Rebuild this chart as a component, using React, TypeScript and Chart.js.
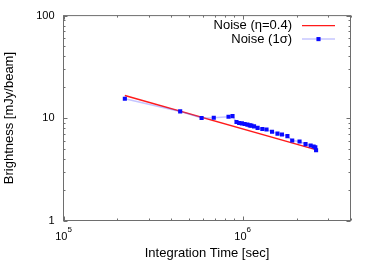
import React, { useEffect, useRef } from 'react';
import { Chart, registerables } from 'chart.js';

Chart.register(...registerables);

// ---- data ----
const seriesLabels = ['Noise (η=0.4)', 'Noise (1σ)'];

const fitTimes = [2.2e5, 2.53e6];
const fitNoise = [16.6, 4.95];

const sigmaTimes = [
  2.2e5, 4.48e5, 5.9e5, 6.9e5, 8.34e5, 8.78e5, 9.24e5, 9.56e5, 9.9e5, 1.026e6,
  1.063e6, 1.096e6, 1.119e6, 1.158e6, 1.212e6, 1.288e6, 1.359e6, 1.459e6, 1.565e6,
  1.657e6, 1.778e6, 1.891e6, 2.078e6, 2.244e6, 2.396e6, 2.49e6, 2.545e6, 2.57e6,
];
const sigmaNoise = [
  15.43, 11.61, 10.0, 10.08, 10.31, 10.45, 9.14, 8.94, 8.87, 8.74,
  8.62, 8.48, 8.43, 8.3, 8.02, 7.81, 7.73, 7.34, 7.05,
  6.91, 6.66, 6.03, 5.9, 5.57, 5.4, 5.27, 5.19, 4.85,
];

const xRange = [1e5, 4e6];
const yRange = [1, 100];
const xMajorTicks = [1e5, 1e6];
const yMajorTicks = [1, 10, 100];
const yTickLabels = ['1', '10', '100'];
const minorMultipliers = [2, 3, 4, 5, 6, 7, 8, 9];

const xTitle = 'Integration Time [sec]';
const yTitle = 'Brightness [mJy/beam]';

const FONT = '"Liberation Sans", Arial, Helvetica, sans-serif';

const gnuplotPlugin = {
  id: 'gnuplotFrame',
  afterDatasetsDraw(chart: any) {
    const { ctx, chartArea } = chart;
    const { left, right, top, bottom } = chartArea;
    const xs = chart.scales.x;
    const ys = chart.scales.y;
    ctx.save();

    // frame
    ctx.strokeStyle = '#6e6e6e';
    ctx.lineWidth = 1;
    ctx.strokeRect(left, top, right - left, bottom - top);

    // ticks (inward, mirrored)
    const majLen = 4;
    const minLen = 2;
    ctx.beginPath();
    const xDecades = [];
    for (let e = Math.floor(Math.log10(xRange[0])); e <= Math.ceil(Math.log10(xRange[1])); e++) xDecades.push(Math.pow(10, e));
    xDecades.forEach((d) => {
      [1, ...minorMultipliers].forEach((m) => {
        const v = d * m;
        if (v < xRange[0] || v > xRange[1]) return;
        const px = Math.round(xs.getPixelForValue(v)) + 0.5;
        const len = m === 1 ? majLen : minLen;
        ctx.moveTo(px, bottom);
        ctx.lineTo(px, bottom - len);
        ctx.moveTo(px, top);
        ctx.lineTo(px, top + len);
      });
    });
    const yDecades = [];
    for (let e = Math.floor(Math.log10(yRange[0])); e <= Math.ceil(Math.log10(yRange[1])); e++) yDecades.push(Math.pow(10, e));
    yDecades.forEach((d) => {
      [1, ...minorMultipliers].forEach((m) => {
        const v = d * m;
        if (v < yRange[0] || v > yRange[1]) return;
        const py = Math.round(ys.getPixelForValue(v)) + 0.5;
        const len = m === 1 ? majLen : minLen;
        ctx.moveTo(left, py);
        ctx.lineTo(left + len, py);
        ctx.moveTo(right, py);
        ctx.lineTo(right - len, py);
      });
    });
    ctx.stroke();

    // x tick labels: 10^n
    ctx.fillStyle = '#000';
    ctx.textBaseline = 'alphabetic';
    ctx.textAlign = 'left';
    xMajorTicks.forEach((v) => {
      const px = xs.getPixelForValue(v);
      const exp = String(Math.round(Math.log10(v)));
      ctx.font = `11px ${FONT}`;
      const wb = ctx.measureText('10').width;
      ctx.font = `8px ${FONT}`;
      const we = ctx.measureText(exp).width;
      const start = px - (wb + we) / 2;
      ctx.font = `11px ${FONT}`;
      ctx.fillText('10', start, bottom + 19);
      ctx.font = `8px ${FONT}`;
      ctx.fillText(exp, start + wb, bottom + 11);
    });

    // legend (gnuplot style: text then sample)
    const rows = [top + 10, top + 23.5];
    const textRight = right - 58.5;
    const sampleL = right - 48.5;
    const sampleR = right - 15.5;
    chart.data.datasets.forEach((ds: any, i: number) => {
      const y = rows[i];
      ctx.font = `13px ${FONT}`;
      ctx.textAlign = 'right';
      ctx.textBaseline = 'middle';
      ctx.fillStyle = '#000';
      ctx.fillText(ds.label, textRight, y);
      ctx.beginPath();
      ctx.strokeStyle = ds.borderColor;
      ctx.lineWidth = ds.borderWidth;
      ctx.moveTo(sampleL, y);
      ctx.lineTo(sampleR, y);
      ctx.stroke();
      if (ds.pointRadius > 0) {
        const s = ds.pointRadius * Math.SQRT2;
        ctx.fillStyle = ds.pointBackgroundColor;
        ctx.fillRect((sampleL + sampleR) / 2 - s / 2, y - s / 2, s, s);
      }
    });

    ctx.restore();
  },
};

export default function App() {
  const canvasRef = useRef<HTMLCanvasElement | null>(null);

  useEffect(() => {
    const prevMargin = document.body.style.margin;
    document.body.style.margin = '0';
    const canvas = canvasRef.current;
    if (!canvas) return;
    const chart = new Chart(canvas, {
      type: 'scatter',
      data: {
        datasets: [
          {
            label: seriesLabels[0],
            data: fitTimes.map((t, i) => ({ x: t, y: fitNoise[i] })),
            showLine: true,
            borderColor: '#ff1a1a',
            borderWidth: 1.4,
            pointRadius: 0,
            order: 1,
          },
          {
            label: seriesLabels[1],
            data: sigmaTimes.map((t, i) => ({ x: t, y: sigmaNoise[i] })),
            showLine: true,
            borderColor: 'rgba(90,90,255,0.35)',
            borderWidth: 1.5,
            pointStyle: 'rect',
            pointRadius: 2.9,
            pointBorderWidth: 0,
            pointBackgroundColor: '#0a0aff',
            pointBorderColor: '#0a0aff',
            order: 0,
          },
        ],
      },
      options: {
        animation: false,
        responsive: true,
        maintainAspectRatio: false,
        layout: { padding: { left: 0, right: 23.5, top: 14.5, bottom: 0 } },
        plugins: { legend: { display: false }, tooltip: { enabled: false } },
        scales: {
          x: {
            type: 'logarithmic',
            min: xRange[0],
            max: xRange[1],
            grid: { display: false, drawTicks: false },
            border: { display: false },
            ticks: { display: false },
            afterBuildTicks: (s: any) => {
              s.ticks = xMajorTicks.map((v) => ({ value: v }));
            },
            afterFit: (s: any) => {
              s.height = 41.5;
            },
            title: {
              display: true,
              text: xTitle,
              color: '#000',
              font: { family: FONT, size: 13 },
              padding: { top: 0, bottom: 1 },
            },
          },
          y: {
            type: 'logarithmic',
            min: yRange[0],
            max: yRange[1],
            grid: { display: false, drawTicks: false },
            border: { display: false },
            ticks: {
              color: '#000',
              font: { family: FONT, size: 11 },
              padding: 9,
              callback: (v: any) => {
                const i = yMajorTicks.indexOf(Number(v));
                return i >= 0 ? yTickLabels[i] : '';
              },
            },
            afterBuildTicks: (s: any) => {
              s.ticks = yMajorTicks.map((v) => ({ value: v }));
            },
            afterFit: (s: any) => {
              s.width = 63.5;
            },
            title: {
              display: true,
              text: yTitle,
              color: '#000',
              font: { family: FONT, size: 13 },
              padding: { top: 2, bottom: 0 },
            },
          },
        },
      },
      plugins: [gnuplotPlugin],
    });
    return () => {
      chart.destroy();
      document.body.style.margin = prevMargin;
    };
  }, []);

  return (
    <div style={{ position: 'absolute', left: 0, top: 0, width: 374, height: 262, background: '#fff' }}>
      <canvas ref={canvasRef} />
    </div>
  );
}
